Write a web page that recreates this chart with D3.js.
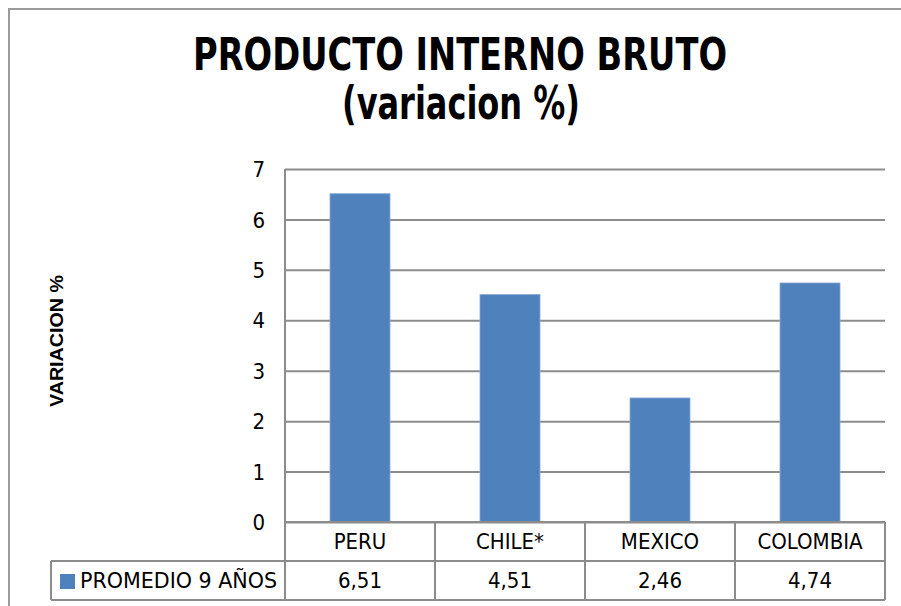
<!DOCTYPE html>
<html><head><meta charset="utf-8">
<script src="https://cdn.jsdelivr.net/npm/d3@7/dist/d3.min.js"></script>
<style>
html,body{margin:0;padding:0;background:#fff;}
svg{display:block;}
</style></head>
<body>
<script>
const categories = ["PERU", "CHILE*", "MEXICO", "COLOMBIA"];
const values = [6.51, 4.51, 2.46, 4.74];
const valueLabels = ["6,51", "4,51", "2,46", "4,74"];
const seriesName = "PROMEDIO 9 AÑOS";
const yTicks = [0, 1, 2, 3, 4, 5, 6, 7];
const titleLines = ["PRODUCTO INTERNO BRUTO", "(variacion %)"];
const yAxisTitle = "VARIACION %";

const W = 901, H = 606;
const narrow = "'Liberation Sans Narrow','DejaVu Sans Condensed',sans-serif";
const gridColor = "#8c8c8c";
const barColor = "#4f81bd";

const svg = d3.select("body").append("svg").attr("width", W).attr("height", H);

// outer border
svg.append("path").attr("d", "M9,606 V9 H901").attr("fill", "none").attr("stroke", "#9a9a9a").attr("stroke-width", 2);

const plot = {left: 285, right: 885, top: 169, bottom: 522};
const x = d3.scaleBand().domain(categories).range([plot.left, plot.right]).paddingInner(0).paddingOuter(0);
const y = d3.scaleLinear().domain([0, 7]).range([plot.bottom, plot.top]);

// title (one text element, two lines)
const title = svg.append("text").attr("text-anchor", "middle")
  .attr("font-family", narrow).attr("font-weight", "bold").attr("fill", "#000");
title.append("tspan").attr("x", 460).attr("y", 70).attr("font-size", 45)
  .attr("textLength", 534).attr("lengthAdjust", "spacingAndGlyphs").text(titleLines[0]);
title.append("tspan").attr("x", 461).attr("y", 119).attr("font-size", 46)
  .attr("textLength", 238).attr("lengthAdjust", "spacingAndGlyphs").text(titleLines[1]);

// gridlines
const yAxis = d3.axisLeft(y).tickValues(yTicks).tickSize(-(plot.right - plot.left)).tickSizeOuter(0).tickPadding(20).tickFormat(d3.format("d"));
const gy = svg.append("g").attr("transform", `translate(${plot.left},0)`).call(yAxis);
gy.select(".domain").remove();
gy.selectAll(".tick line").attr("stroke", gridColor).attr("stroke-width", 2);
gy.selectAll(".tick text").attr("font-family", narrow).attr("font-size", 22).attr("fill", "#000").attr("dy", "0.35em");

// vertical axis line
svg.append("line").attr("x1", plot.left).attr("x2", plot.left).attr("y1", y(7)).attr("y2", y(0))
  .attr("stroke", gridColor).attr("stroke-width", 2);

// bars
const barW = x.bandwidth() * 0.4;
svg.append("g").selectAll("rect").data(categories).join("rect")
  .attr("x", (d) => x(d) + (x.bandwidth() - barW) / 2)
  .attr("width", barW)
  .attr("y", (d, i) => y(values[i]))
  .attr("height", (d, i) => y(0) - y(values[i]))
  .attr("fill", barColor)
  .attr("stroke", "#8aaad4").attr("stroke-width", 0.8);

// y axis title
svg.append("text").attr("transform", "translate(63,341) rotate(-90)").attr("text-anchor", "middle")
  .attr("font-family", "'Liberation Sans',Arial,sans-serif").attr("font-weight", "bold").attr("font-size", 18)
  .attr("textLength", 132).attr("lengthAdjust", "spacingAndGlyphs")
  .text(yAxisTitle);

// data table
const row1 = plot.bottom, row2 = 561, row3 = 600, legendLeft = 51;
const t = svg.append("g").attr("stroke", gridColor).attr("stroke-width", 2).attr("fill", "none");
t.append("line").attr("x1", plot.left).attr("x2", plot.right).attr("y1", row1).attr("y2", row1);
t.append("line").attr("x1", legendLeft).attr("x2", plot.right).attr("y1", row2).attr("y2", row2);
t.append("line").attr("x1", legendLeft).attr("x2", plot.right).attr("y1", row3).attr("y2", row3);
t.append("line").attr("x1", legendLeft).attr("x2", legendLeft).attr("y1", row2).attr("y2", row3);
t.selectAll(".v").data(categories.concat(["_end"])).join("line")
  .attr("x1", (d) => d === "_end" ? plot.right : x(d))
  .attr("x2", (d) => d === "_end" ? plot.right : x(d))
  .attr("y1", row1).attr("y2", row3);

svg.append("g").selectAll("text").data(categories).join("text")
  .attr("x", (d) => x(d) + x.bandwidth() / 2).attr("y", (row1 + row2) / 2).attr("dy", "0.35em")
  .attr("text-anchor", "middle").attr("font-family", narrow).attr("font-size", 22).text((d) => d);

svg.append("g").selectAll("text").data(categories).join("text")
  .attr("x", (d) => x(d) + x.bandwidth() / 2).attr("y", (row2 + row3) / 2).attr("dy", "0.35em")
  .attr("text-anchor", "middle").attr("font-family", narrow).attr("font-size", 22).text((d, i) => valueLabels[i]);

svg.append("rect").attr("x", 60).attr("y", 574).attr("width", 15).attr("height", 15).attr("fill", barColor);
svg.append("text").attr("x", 80).attr("y", (row2 + row3) / 2).attr("dy", "0.35em")
  .attr("font-family", narrow).attr("font-size", 22)
  .attr("textLength", 197).attr("lengthAdjust", "spacingAndGlyphs")
  .text(seriesName);
</script>
</body></html>
